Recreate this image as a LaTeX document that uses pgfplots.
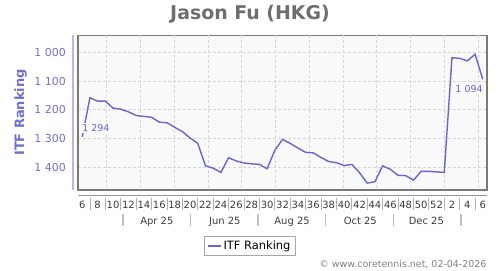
\documentclass[border=0pt]{standalone}
\usepackage{pgfplots}
\pgfplotsset{compat=1.18}
\usepackage{fontspec}
\setmainfont{DejaVu Sans}
\definecolor{lineblue}{HTML}{6666CC}
\definecolor{ticklab}{HTML}{7070D0}
\definecolor{ylinecol}{HTML}{B8B8E6}
\definecolor{plotbg}{HTML}{F9F9F9}
\definecolor{framegray}{HTML}{7A7A7A}
\definecolor{gridgray}{HTML}{D6D6D6}
\definecolor{titlegray}{HTML}{6E6E6E}
\definecolor{xlab}{HTML}{3A3A3A}
\definecolor{sepgray}{HTML}{B0B0B0}
\pgfplotstableread{
x y
6 1294
7 1158
8 1170
9 1170
10 1194
11 1198
12 1207
13 1220
14 1223
15 1226
16 1243
17 1245
18 1261
19 1276
20 1298
21 1317
22 1395
23 1403
24 1418
25 1367
26 1378
27 1385
28 1388
29 1390
30 1405
31 1341
32 1303
33 1317
34 1333
35 1348
36 1350
37 1366
38 1380
39 1384
40 1394
41 1390
42 1419
43 1455
44 1450
45 1395
46 1407
47 1428
48 1429
49 1445
50 1414
51 1414
52 1416
53 1418
54 1019
55 1021
56 1030
57 1007
58 1094
}\ranking
\begin{document}
\begin{tikzpicture}[x=1bp,y=1bp]
\path[use as bounding box] (0,0) rectangle (500,270);
\node[font=\bfseries\fontsize{19}{22}\selectfont, text=titlegray] at (250,256) {Jason Fu (HKG)};
\node[font=\bfseries\fontsize{13}{15}\selectfont, text=ticklab, rotate=90] at (20.5,157.5) {ITF Ranking};
\node[font=\fontsize{9.5}{11}\selectfont, text=gray, anchor=base east] at (490,3) {© www.coretennis.net, 02-04-2026};
\begin{axis}[
  at={(78bp,80bp)}, anchor=south west, scale only axis,
  width=409bp, height=154.7bp,
  xmin=5.45, xmax=58.55, ymin=941, ymax=1479, y dir=reverse,
  clip=false,
  axis background/.style={fill=plotbg},
  axis line style={draw=framegray, line width=1.1bp},
  major tick length=0pt,
  xtick={6,8,...,58},
  xticklabels={6,8,10,12,14,16,18,20,22,24,26,28,30,32,34,36,38,40,42,44,46,48,50,52,2,4,6},
  xticklabel style={font=\fontsize{10}{12}\selectfont, text=xlab, anchor=base, yshift=-18.5bp, inner sep=0pt},
  ytick={1000,1100,1200,1300,1400},
  yticklabels={1 000,1 100,1 200,1 300,1 400},
  yticklabel style={font=\fontsize{11}{13}\selectfont, text=ticklab, anchor=east, xshift=-12bp, inner sep=0pt},
  ymajorgrids=true,
  extra x ticks={9.165,13.549,17.933,22.317,26.701,31.085,35.469,39.853,44.237,48.621,53.005,57.389},
  extra x tick labels={},
  extra x tick style={xmajorgrids=true},
  grid style={draw=gridgray, dash pattern=on 2.5bp off 2.5bp, line width=0.8bp},
  legend style={at={(0.42,-0.361)}, anchor=center, draw=gray!70, line width=0.8bp,
    font=\fontsize{11.5}{13}\selectfont, inner xsep=3bp, inner ysep=2.5bp},
  legend image code/.code={\draw[#1] (0bp,0bp) -- (13bp,0bp);},
]
\addplot[lineblue, line width=1.4bp] table[x=x,y=y] {\ranking};
\addlegendentry{ITF Ranking}
\node[anchor=south west, font=\fontsize{9.5}{10}\selectfont, text=lineblue, fill=plotbg, inner sep=1bp, xshift=-1bp, yshift=4bp] at (axis cs:6,1294) {1 294};
\node[anchor=north east, font=\fontsize{9.5}{10}\selectfont, text=lineblue, fill=plotbg, inner sep=1bp, xshift=1bp, yshift=-5bp] at (axis cs:58,1094) {1 094};
\draw[framegray!80, line width=1bp] ([yshift=-5bp]axis description cs:0,0) -- ([yshift=-5bp]axis description cs:1,0);
\draw[ylinecol, line width=1.3bp] ([xshift=-5bp]axis description cs:0,0) -- ([xshift=-5bp]axis description cs:0,1);
\pgfplotsinvokeforeach{7,9,...,57}{
  \draw[sepgray, line width=0.8bp] ([yshift=-8bp]axis cs:#1,1479) -- ([yshift=-20bp]axis cs:#1,1479);
}
\pgfplotsinvokeforeach{11.3,20.06,28.83,37.6,46.4,55.16}{
  \draw[sepgray!80, line width=1.3bp] ([yshift=-24bp]axis cs:#1,1479) -- ([yshift=-36bp]axis cs:#1,1479);
}
\node[anchor=base, font=\fontsize{10}{12}\selectfont, text=xlab] at ([yshift=-34bp]axis cs:15.69,1479) {Apr 25};
\node[anchor=base, font=\fontsize{10}{12}\selectfont, text=xlab] at ([yshift=-34bp]axis cs:24.51,1479) {Jun 25};
\node[anchor=base, font=\fontsize{10}{12}\selectfont, text=xlab] at ([yshift=-34bp]axis cs:33.24,1479) {Aug 25};
\node[anchor=base, font=\fontsize{10}{12}\selectfont, text=xlab] at ([yshift=-34bp]axis cs:42.1,1479) {Oct 25};
\node[anchor=base, font=\fontsize{10}{12}\selectfont, text=xlab] at ([yshift=-34bp]axis cs:50.67,1479) {Dec 25};
\end{axis}
\end{tikzpicture}
\end{document}
